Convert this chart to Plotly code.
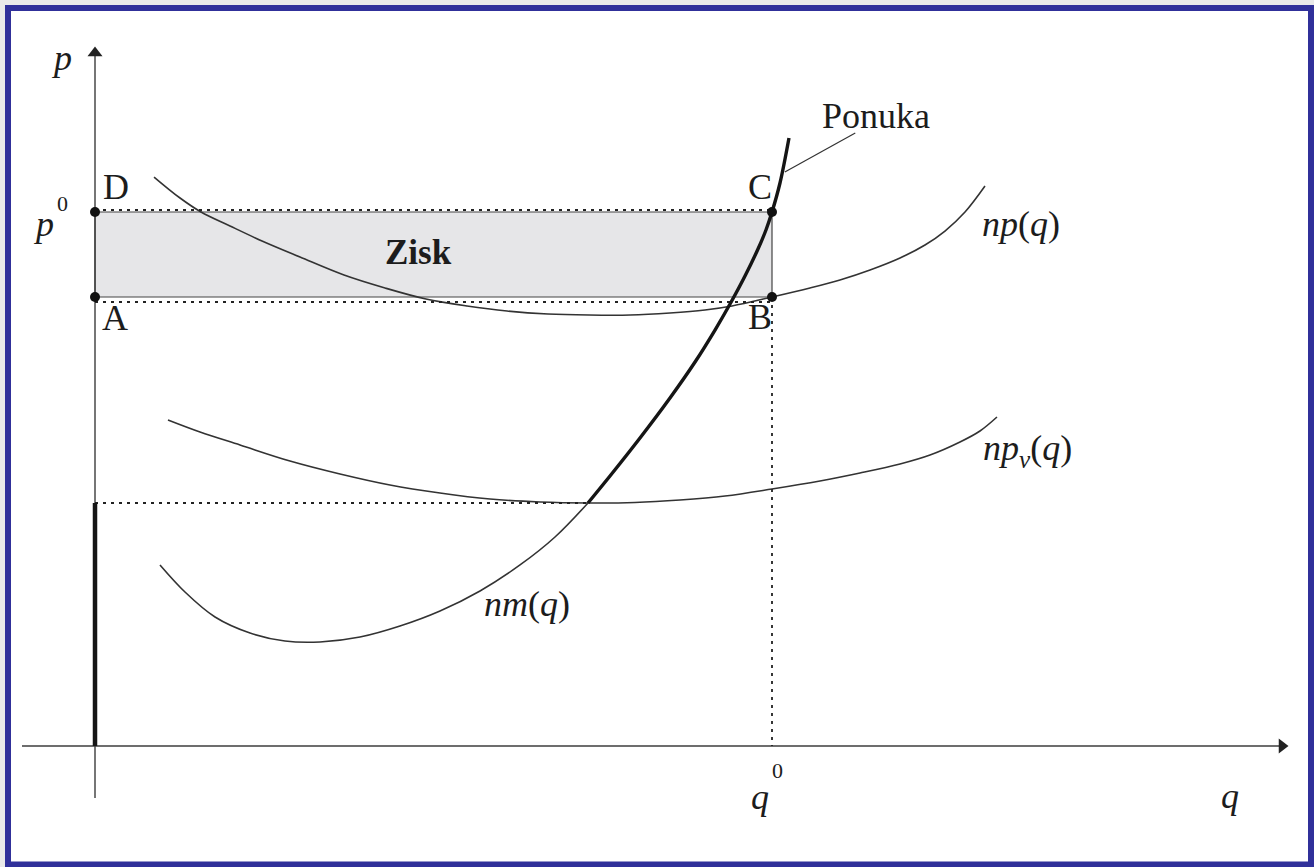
import plotly.graph_objects as go

# ---------------- data (economic units: q = quantity, p = price) ----------------
q0 = 10.0          # equilibrium quantity q^0
p0 = 10.0          # market price p^0
pB = 8.408         # average cost at q^0 (points A and B)
qv_min = 7.282     # quantity at minimum of average variable cost
pv_min = 4.551     # minimum of average variable cost

# np(q) – average total cost
ac_q = [0.872, 1.256, 1.566, 1.994, 2.467, 3.028, 3.678, 4.284, 4.889, 5.495, 6.086, 6.691, 7.297,
        7.903, 8.493, 9.010, 9.409, 10.0, 10.561, 11.004, 11.448, 11.891, 12.260, 12.555, 12.851, 13.146]
ac_p = [10.655, 10.262, 10.0, 9.738, 9.457, 9.157, 8.820, 8.577, 8.371, 8.240, 8.146, 8.090, 8.071,
        8.071, 8.109, 8.165, 8.240, 8.408, 8.577, 8.727, 8.914, 9.139, 9.382, 9.644, 10.0, 10.487]

# np_v(q) – average variable cost
avc_q = [1.078, 1.551, 2.142, 2.880, 3.619, 4.357, 5.096, 5.835, 6.573, 7.282, 7.976, 8.641,
         9.306, 10.0, 10.709, 11.300, 11.891, 12.334, 12.777, 13.072, 13.323]
avc_p = [6.105, 5.880, 5.637, 5.337, 5.094, 4.888, 4.738, 4.625, 4.569, 4.551, 4.560, 4.607,
         4.682, 4.813, 4.963, 5.112, 5.281, 5.449, 5.693, 5.899, 6.161]

# nm(q) – marginal cost, lower (thin) part
mc_q = [0.960, 1.329, 1.773, 2.290, 2.806, 3.323, 3.914, 4.505, 5.096, 5.687, 6.278, 6.795, 7.282]
mc_p = [3.390, 2.884, 2.416, 2.116, 1.966, 1.948, 2.041, 2.247, 2.528, 2.903, 3.390, 3.914, 4.551]

# Ponuka – supply (marginal cost above min AVC, thick)
s_q = [7.282, 7.607, 8.050, 8.493, 8.863, 9.158, 9.380, 9.601, 9.793, 9.911, 10.0, 10.118, 10.251]
s_p = [4.551, 5.056, 5.768, 6.517, 7.191, 7.790, 8.277, 8.801, 9.307, 9.663, 10.0, 10.543, 11.386]

# leader line from the label "Ponuka" to the supply curve
leader_q = [10.19, 11.23]
leader_p = [10.75, 11.48]

# ---------------- layout constants (pixels) ----------------
W, H = 1314, 867
X0, Y0 = 95, 746          # pixel position of the origin
SX, SY = 67.7, 53.4       # pixels per unit


def qx(px):
    return (px - X0) / SX


def py(px):
    return (Y0 - px) / SY


FONT = "Liberation Serif"
INK = "#1c1c1c"
CURVE = "#333333"
AXIS = "#3c3c3c"

fig = go.Figure()

# axes
fig.add_trace(go.Scatter(x=[qx(22), qx(1280)], y=[0, 0], mode="lines", line=dict(color=AXIS, width=1.6)))
fig.add_trace(go.Scatter(x=[0, 0], y=[py(798), py(56)], mode="lines", line=dict(color=AXIS, width=1.4)))
fig.add_trace(go.Scatter(x=[qx(1282)], y=[0], mode="markers",
                         marker=dict(symbol="triangle-right", size=13, color="#222222", line=dict(width=0))))
fig.add_trace(go.Scatter(x=[0], y=[py(53)], mode="markers",
                         marker=dict(symbol="triangle-up", size=13, color="#222222", line=dict(width=0))))

# thin curves
thin = dict(color=CURVE, width=1.6, shape="spline", smoothing=1.0)
fig.add_trace(go.Scatter(x=ac_q, y=ac_p, mode="lines", line=thin))
fig.add_trace(go.Scatter(x=avc_q, y=avc_p, mode="lines", line=thin))
fig.add_trace(go.Scatter(x=mc_q, y=mc_p, mode="lines", line=thin))
fig.add_trace(go.Scatter(x=leader_q, y=leader_p, mode="lines", line=dict(color=CURVE, width=1.2)))

# dotted guide lines
dot = dict(color="#222222", width=1.8, dash="3px,5px")
fig.add_trace(go.Scatter(x=[0, q0], y=[p0 + 2 / SY, p0 + 2 / SY], mode="lines", line=dot))
fig.add_trace(go.Scatter(x=[0, q0], y=[pB - 5 / SY, pB - 5 / SY], mode="lines", line=dot))
fig.add_trace(go.Scatter(x=[q0, q0], y=[pB, 0], mode="lines", line=dot))
fig.add_trace(go.Scatter(x=[0, qv_min], y=[pv_min, pv_min], mode="lines", line=dot))

# supply: thick parts
fig.add_trace(go.Scatter(x=s_q, y=s_p, mode="lines",
                         line=dict(color="#151515", width=3.4, shape="spline", smoothing=1.0)))
fig.add_trace(go.Scatter(x=[0, 0], y=[0, pv_min], mode="lines", line=dict(color="#151515", width=4.5)))

# points A, B, C, D
fig.add_trace(go.Scatter(x=[0, 0, q0, q0], y=[p0, pB, p0, pB], mode="markers",
                         marker=dict(color="#111111", size=10)))

# frame + profit rectangle
shapes = [
    dict(type="rect", xref="paper", yref="paper", x0=8 / W, x1=1311 / W, y0=1 - 864.5 / H, y1=1 - 8 / H,
         fillcolor="white", line=dict(color="#30309a", width=6), layer="below"),
    dict(type="rect", xref="x", yref="y", x0=0, x1=q0, y0=pB, y1=p0,
         fillcolor="#e6e6e8", line=dict(color="#444444", width=1.2), layer="below"),
]

ann = []


def label(text, xpx, ypx, size=36, bold=False):
    t = f"<b>{text}</b>" if bold else text
    ann.append(dict(x=qx(xpx), y=py(ypx), xref="x", yref="y", text=t, showarrow=False,
                    font=dict(family=FONT, size=size, color=INK), xanchor="center", yanchor="middle"))


label("<i>p</i>", 61, 58)
label("<i>p</i>", 43, 224)
label("0", 62, 203, size=22)
label("D", 116, 187)
label("A", 115, 318)
label("C", 760, 187)
label("B", 760, 317)
label("Zisk", 418, 252, size=35, bold=True)
label("Ponuka", 876, 116)
label("<i>np</i>(<i>q</i>)", 1021, 224)
label("<i>np</i><sub><i>v</i></sub>(<i>q</i>)", 1027, 450)
label("<i>nm</i>(<i>q</i>)", 527, 604)
label("<i>q</i>", 760, 797)
label("0", 777, 770, size=22)
label("<i>q</i>", 1230, 796)

fig.update_layout(
    width=W, height=H,
    margin=dict(l=0, r=0, t=0, b=0),
    paper_bgcolor="#e9e9e9",
    plot_bgcolor="rgba(0,0,0,0)",
    showlegend=False,
    shapes=shapes,
    annotations=ann,
    xaxis=dict(range=[qx(0), qx(W)], visible=False, fixedrange=True),
    yaxis=dict(range=[py(H), py(0)], visible=False, fixedrange=True),
)

fig.write_html("out.html",
               config={"displayModeBar": False},
               post_script="document.body.style.margin='0';document.body.style.padding='0';")
